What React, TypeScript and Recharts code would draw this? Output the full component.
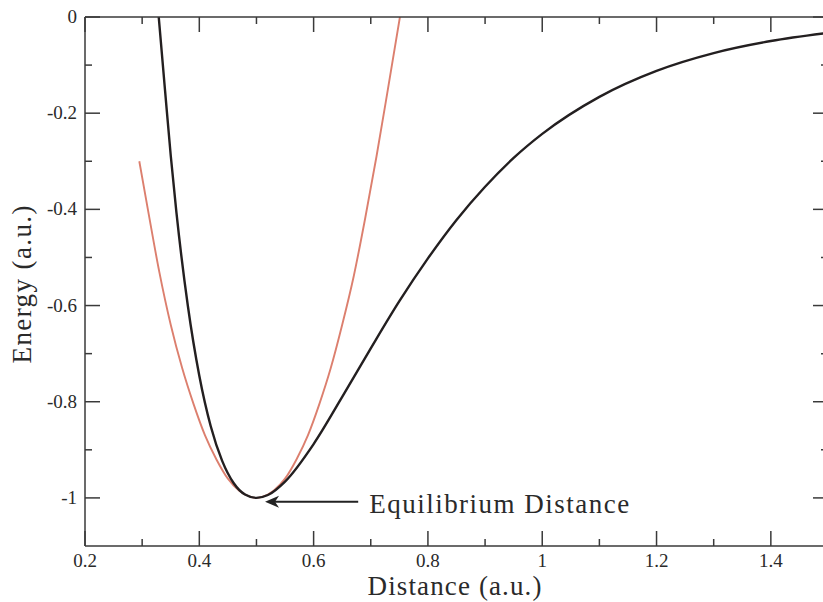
import { LineChart, Line, XAxis, YAxis, ReferenceLine, Label } from 'recharts';

// Morse potential (black) and harmonic approximation (red)
const morseR = [0.329, 0.34, 0.35, 0.36, 0.38, 0.4, 0.42, 0.44, 0.46, 0.48, 0.5, 0.52, 0.55, 0.6, 0.65, 0.7, 0.75, 0.8, 0.85, 0.9, 0.95, 1.0, 1.1, 1.2, 1.3, 1.4, 1.5];
const morseE = [0.0, -0.152, -0.288, -0.407, -0.601, -0.746, -0.851, -0.923, -0.969, -0.993, -1.0, -0.994, -0.966, -0.888, -0.79, -0.689, -0.591, -0.502, -0.422, -0.353, -0.293, -0.243, -0.166, -0.112, -0.075, -0.05, -0.033];

const harmR = [0.295, 0.31, 0.33, 0.35, 0.37, 0.39, 0.41, 0.43, 0.45, 0.47, 0.49, 0.5, 0.51, 0.53, 0.55, 0.57, 0.59, 0.61, 0.63, 0.65, 0.67, 0.69, 0.71, 0.73, 0.751];
const harmE = [-0.3, -0.4, -0.53, -0.64, -0.73, -0.805, -0.87, -0.92, -0.96, -0.985, -0.998, -1.0, -0.998, -0.985, -0.96, -0.92, -0.87, -0.805, -0.73, -0.64, -0.54, -0.42, -0.29, -0.15, 0.0];

const xTicks = [0.2, 0.3, 0.4, 0.5, 0.6, 0.7, 0.8, 0.9, 1.0, 1.1, 1.2, 1.3, 1.4];
const yTicks = [0, -0.1, -0.2, -0.3, -0.4, -0.5, -0.6, -0.7, -0.8, -0.9, -1.0];

const arrowFrom = { r: 0.678, e: -1.008 };
const arrowTo = { r: 0.515, e: -1.008 };

const morseData = morseR.map((r, i) => ({ r, e: morseE[i] }));
const harmData = harmR.map((r, i) => ({ r, e: harmE[i] }));

const FONT = '"Liberation Serif", "DejaVu Serif", serif';
const AXIS = '#3a3a3a';
const TEXT = '#2a2a2a';
const MAJOR = 15;
const MINOR = 7;

const isMajor = (v: number) => Math.abs(Math.round(v * 10)) % 2 === 0;
const fmt = (v: number) => {
  const n = Number(v.toFixed(1));
  return n === 0 ? '0' : String(n);
};

const BottomTick = ({ x, y, payload }: any) => {
  const v = payload.value;
  const major = isMajor(v);
  return (
    <g>
      <line x1={x} y1={y} x2={x} y2={y - (major ? MAJOR : MINOR)} stroke={AXIS} strokeWidth={1.5} />
      {major && (
        <text x={x} y={y + 21} textAnchor="middle" fontFamily={FONT} fontSize={19} fill={TEXT}>
          {fmt(v)}
        </text>
      )}
    </g>
  );
};

const TopTick = ({ x, y, payload }: any) => {
  const major = isMajor(payload.value);
  return <line x1={x} y1={y} x2={x} y2={y + (major ? MAJOR : MINOR)} stroke={AXIS} strokeWidth={1.5} />;
};

const LeftTick = ({ x, y, payload }: any) => {
  const v = payload.value;
  const major = isMajor(v);
  return (
    <g>
      <line x1={x} y1={y} x2={x + (major ? MAJOR : MINOR)} y2={y} stroke={AXIS} strokeWidth={1.5} />
      {major && (
        <text x={x - 8} y={y + 6} textAnchor="end" fontFamily={FONT} fontSize={19} fill={TEXT}>
          {fmt(v)}
        </text>
      )}
    </g>
  );
};

const RightTick = ({ x, y, payload }: any) => {
  const major = isMajor(payload.value);
  return <line x1={x} y1={y} x2={x - (major ? MAJOR : MINOR)} y2={y} stroke={AXIS} strokeWidth={1.5} />;
};

const ArrowShape = (props: any) => {
  const { x1, y1, x2, y2 } = props;
  return (
    <g>
      <line x1={x1} y1={y1} x2={x2 + 8} y2={y2} stroke="#222" strokeWidth={1.8} />
      <path d={`M${x2},${y2} L${x2 + 14},${y2 - 6} L${x2 + 10},${y2} L${x2 + 14},${y2 + 6} Z`} fill="#222" />
      <text x={x1 + 11} y={y1 + 11} fontFamily={FONT} fontSize={27} fill={TEXT} textLength={260} lengthAdjust="spacing">
        Equilibrium Distance
      </text>
    </g>
  );
};

export default function App() {
  return (
    <div style={{ position: 'absolute', left: 0, top: 0, width: 823, height: 602, overflow: 'hidden', background: '#fff' }}>
      <LineChart width={830} height={602} margin={{ top: 16, right: 1, bottom: 0, left: 0 }}>
        <XAxis
          dataKey="r"
          type="number"
          domain={[0.2, 1.5]}
          allowDataOverflow
          ticks={xTicks}
          interval={0}
          height={56}
          tickSize={0}
          tickMargin={0}
          tickLine={false}
          tick={<BottomTick />}
          axisLine={{ stroke: AXIS, strokeWidth: 1.5 }}
        >
          <Label
            content={({ viewBox }: any) => (
              <text x={viewBox.x + viewBox.width / 2 - 2} y={viewBox.y + 49} textAnchor="middle" fontFamily={FONT} fontSize={27} fill={TEXT} textLength={174} lengthAdjust="spacing">
                Distance (a.u.)
              </text>
            )}
          />
        </XAxis>
        <XAxis
          xAxisId="top"
          orientation="top"
          dataKey="r"
          type="number"
          domain={[0.2, 1.5]}
          allowDataOverflow
          ticks={xTicks}
          interval={0}
          height={1}
          tickSize={0}
          tickMargin={0}
          tickLine={false}
          tick={<TopTick />}
          axisLine={{ stroke: AXIS, strokeWidth: 1.5 }}
        />
        <YAxis
          type="number"
          domain={[-1.1, 0]}
          allowDataOverflow
          ticks={yTicks}
          interval={0}
          width={85}
          tickSize={0}
          tickMargin={0}
          tickLine={false}
          tick={<LeftTick />}
          axisLine={{ stroke: AXIS, strokeWidth: 1.5 }}
        >
          <Label
            content={({ viewBox }: any) => {
              const cx = viewBox.x + 22;
              const cy = viewBox.y + viewBox.height / 2 + 3;
              return (
                <text x={cx} y={cy} transform={`rotate(-90 ${cx} ${cy})`} textAnchor="middle" dominantBaseline="central" fontFamily={FONT} fontSize={27} fill={TEXT} textLength={158} lengthAdjust="spacing">
                  Energy (a.u.)
                </text>
              );
            }}
          />
        </YAxis>
        <YAxis
          yAxisId="right"
          orientation="right"
          type="number"
          domain={[-1.1, 0]}
          allowDataOverflow
          ticks={yTicks}
          interval={0}
          width={1}
          tickSize={0}
          tickMargin={0}
          tickLine={false}
          tick={<RightTick />}
          axisLine={{ stroke: AXIS, strokeWidth: 1.5 }}
        />
        <Line
          data={harmData}
          dataKey="e"
          type="monotone"
          stroke="#dc7f6e"
          strokeWidth={1.9}
          dot={false}
          isAnimationActive={false}
        />
        <Line
          data={morseData}
          dataKey="e"
          type="monotone"
          stroke="#231f20"
          strokeWidth={2.4}
          dot={false}
          isAnimationActive={false}
        />
        <ReferenceLine
          segment={[
            { x: arrowFrom.r, y: arrowFrom.e },
            { x: arrowTo.r, y: arrowTo.e },
          ]}
          shape={<ArrowShape />}
        />
      </LineChart>
    </div>
  );
}
